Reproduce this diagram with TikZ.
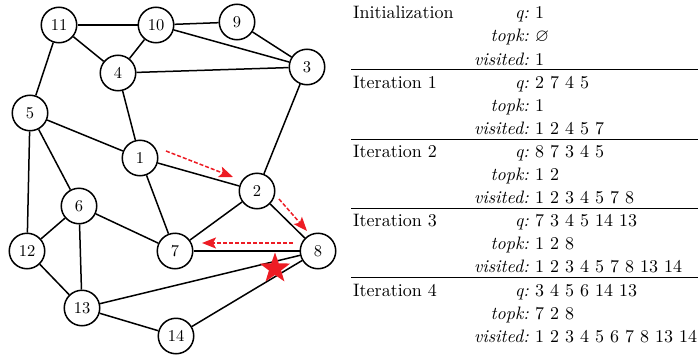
\documentclass[tikz,border=0pt]{standalone}
\usepackage{amssymb}
\usepackage{fontspec}
% keep the 10pt design size at every size, for a sturdier look
\setmainfont{lmroman10-regular}[Extension=.otf,ItalicFont=lmroman10-italic]
\usetikzlibrary{arrows.meta,shapes.geometric}
\definecolor{walkred}{RGB}{237,28,36}
\begin{document}
\begin{tikzpicture}[x=1pt,y=-1pt,
  vert/.style={circle,draw,line width=1.5pt,minimum size=35.5pt,inner sep=0pt,
    font=\fontsize{16.5}{17}\selectfont},
  edge/.style={line width=1.5pt},
  walk/.style={walkred,line width=1.5pt,dash pattern=on 4pt off 2pt,
    -{Stealth[length=14pt,width=11pt,inset=3pt]}},
  tabtext/.style={inner sep=0pt,font=\fontsize{18}{20}\selectfont},
  lbl/.style={tabtext,anchor=base west},
  keyx/.style={tabtext,anchor=base east,font=\fontsize{18}{20}\selectfont\itshape},
  valx/.style={tabtext,anchor=base west},
  rulex/.style={line width=1pt}]
\useasboundingbox (0,0) rectangle (698,356);

% graph vertices
\node[vert] (v1)  at (140,158) {1};
\node[vert] (v2)  at (257,191) {2};
\node[vert] (v3)  at (307,67)  {3};
\node[vert] (v4)  at (118,73)  {4};
\node[vert] (v5)  at (30,113)  {5};
\node[vert] (v6)  at (79,206)  {6};
\node[vert] (v7)  at (175,251) {7};
\node[vert] (v8)  at (318,251) {8};
\node[vert] (v9)  at (237,22)  {9};
\node[vert] (v10) at (156,25)  {10};
\node[vert] (v11) at (59,25)   {11};
\node[vert] (v12) at (27,251)  {12};
\node[vert] (v13) at (82,308)  {13};
\node[vert] (v14) at (176,336) {14};

% graph edges
\foreach \a/\b in {11/10,11/4,11/5,10/9,10/4,10/3,9/3,4/3,4/1,5/1,5/6,5/12,
  1/2,1/7,3/2,2/7,2/8,6/12,6/7,6/13,12/13,7/8,13/8,13/14,14/8}
  \draw[edge] (v\a) -- (v\b);

% search steps
\coordinate (s1) at (166,151); \coordinate (t1) at (233,177);
\coordinate (s2) at (279,199); \coordinate (t2) at (307,231);
\coordinate (s3) at (293,243); \coordinate (t3) at (202,243);
\draw[walk] (s1) -- (t1);
\draw[walk] (s2) -- (t2);
\draw[walk] (s3) -- (t3);

% target marker
\node[star,star points=5,star point ratio=2.5,fill=walkred,inner sep=0pt,
  minimum size=32pt] (goal) at (275,268.5) {};

% trace table
\foreach \i/\lab/\key/\val in {
  0/Initialization/q:/1,
  1//topk:/{$\varnothing$},
  2//visited:/1,
  3/Iteration 1/q:/2 7 4 5,
  4//topk:/1,
  5//visited:/1 2 4 5 7,
  6/Iteration 2/q:/8 7 3 4 5,
  7//topk:/1 2,
  8//visited:/1 2 3 4 5 7 8,
  9/Iteration 3/q:/7 3 4 5 14 13,
  10//topk:/1 2 8,
  11//visited:/1 2 3 4 5 7 8 13 14,
  12/Iteration 4/q:/3 4 5 6 14 13,
  13//topk:/7 2 8,
  14//visited:/1 2 3 4 5 6 7 8 13 14}{
  \pgfmathsetmacro{\yb}{18.8+23.1*\i}
  \node[lbl]  (lab\i) at (353,\yb) {\lab};
  \node[keyx] (key\i) at (529,\yb) {\key};
  \node[valx] (val\i) at (535,\yb) {\val};
}
\foreach \k in {0,1,2,3}{
  \pgfmathsetmacro{\yr}{18.8+23.1*(3*\k+2)+4.8}
  \draw[rulex] (351,\yr) -- (698,\yr);
}
\end{tikzpicture}
\end{document}
